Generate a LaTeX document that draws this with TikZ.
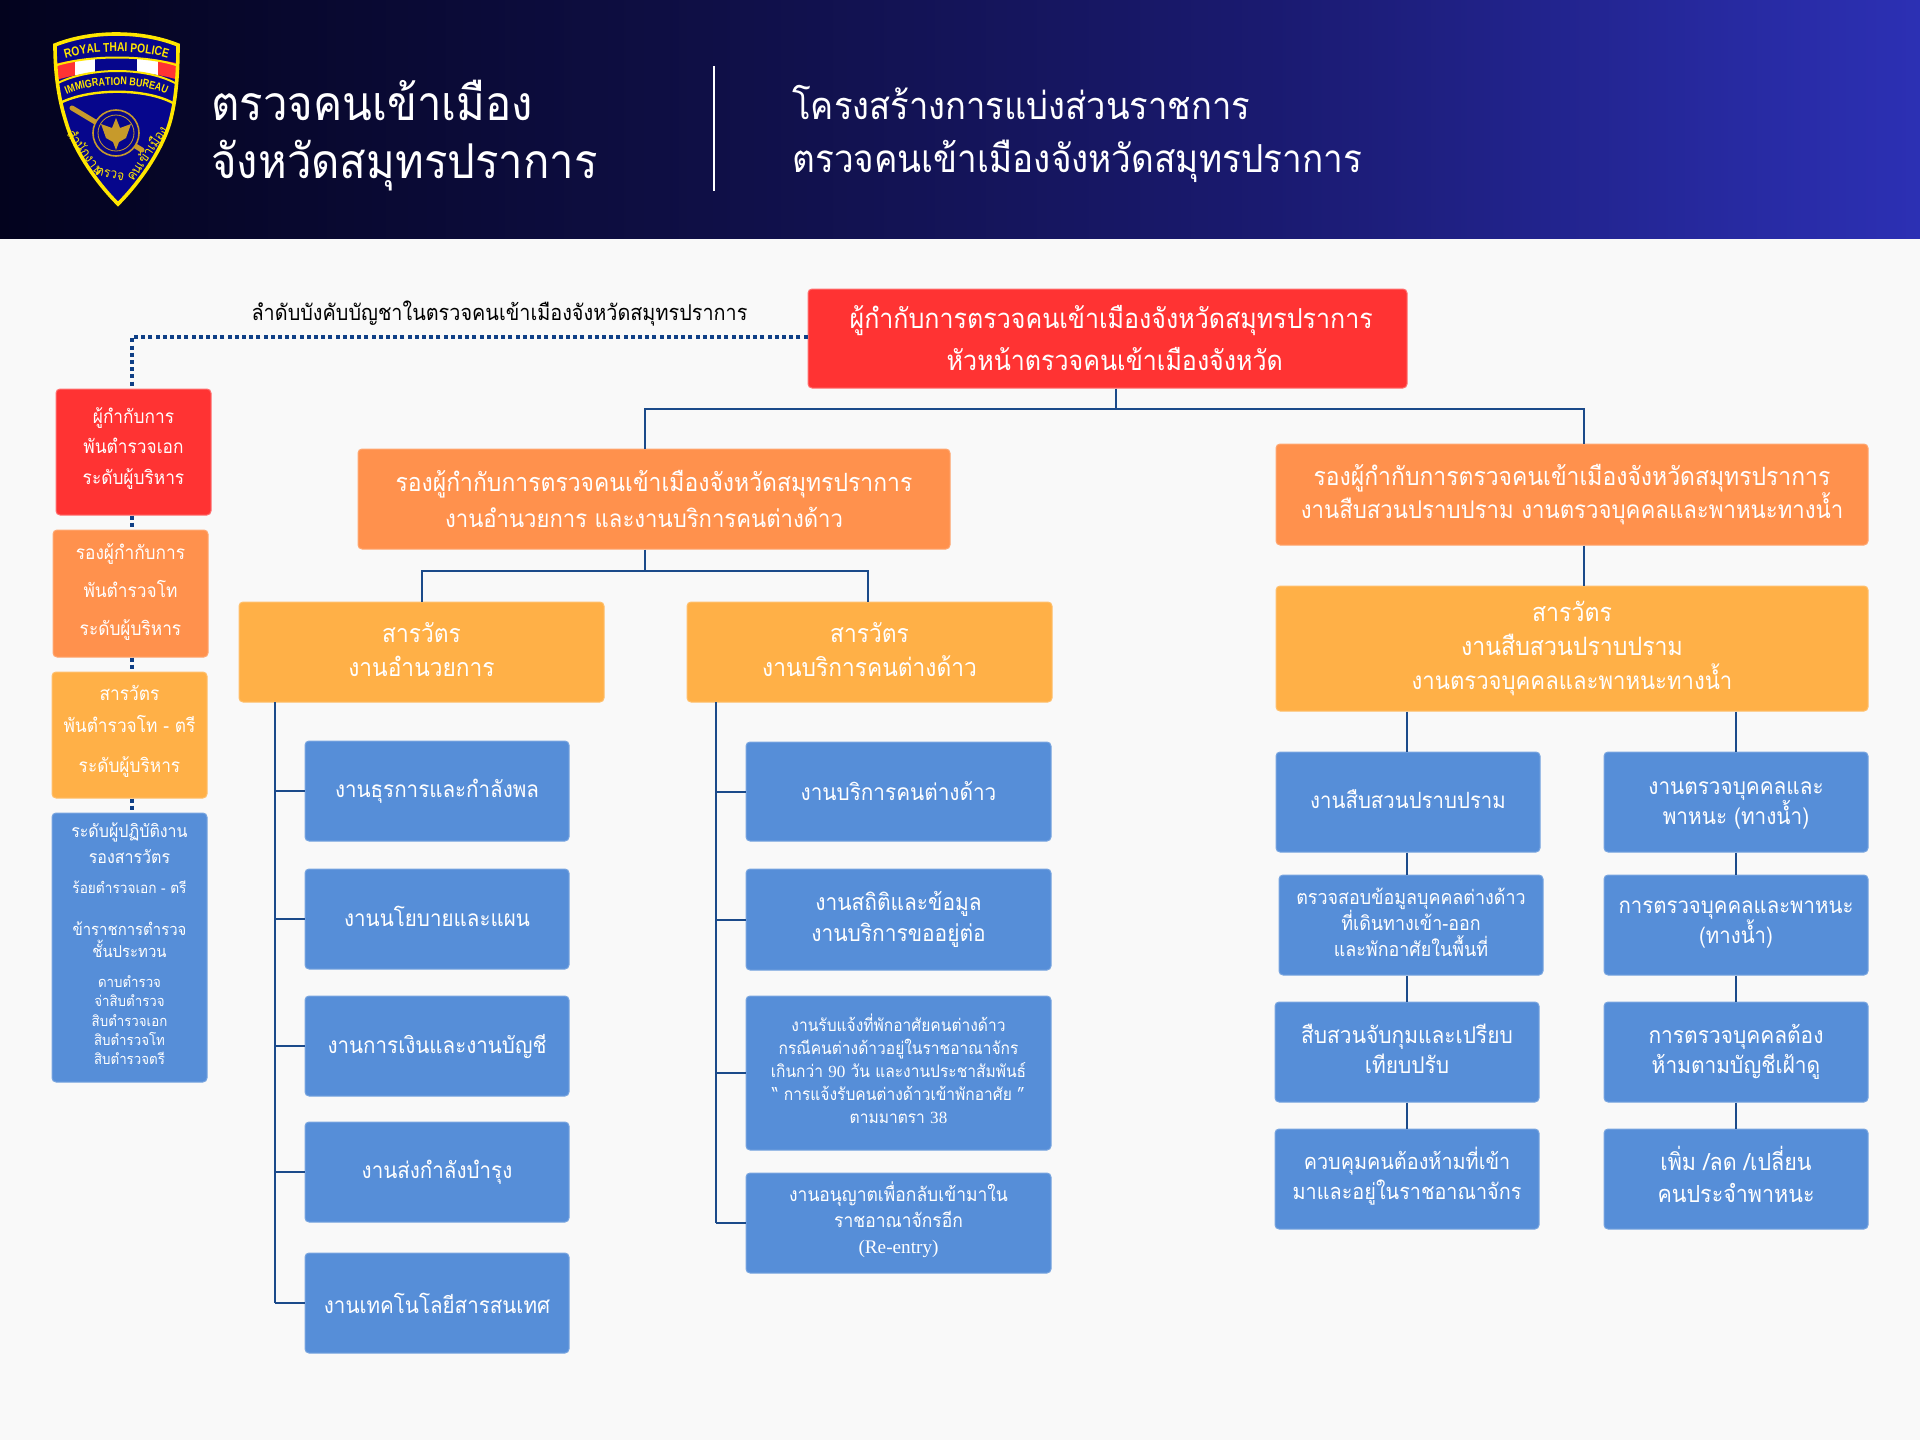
\documentclass[tikz,border=0pt]{standalone}
\usepackage{fontspec}
\setmainfont[Script=Thai,FakeStretch=0.91]{Loma}
\newfontfamily\latinserif{Liberation Serif}
\newfontfamily\badgefont[FakeStretch=0.8]{Liberation Sans}
\usetikzlibrary{decorations.text}
\definecolor{pagebg}{HTML}{F9F9F9}
\definecolor{chiefred}{HTML}{FF3333}
\definecolor{deputyorange}{HTML}{FF914D}
\definecolor{inspyellow}{HTML}{FFB047}
\definecolor{staffblue}{HTML}{568ED8}
\definecolor{linkblue}{HTML}{1B4A8A}
\definecolor{dotblue}{HTML}{0F3F86}
\definecolor{badgenavy}{HTML}{06068C}
\definecolor{badgegold}{HTML}{FFE600}
\definecolor{garudagold}{HTML}{C79A2B}
\definecolor{headA}{HTML}{03031E}
\definecolor{headB}{HTML}{0E0E42}
\definecolor{headC}{HTML}{1A1A70}
\definecolor{headD}{HTML}{2C30B4}
\pgfdeclarehorizontalshading{headershade}{100bp}{
  color(0bp)=(headA); color(25bp)=(headA);
  color(42bp)=(headB); color(58bp)=(headC);
  color(75bp)=(headD); color(100bp)=(headD)}
\newcommand{\fs}[2]{\fontsize{#1}{#2}\selectfont\lineskiplimit=-20pt }
\newcommand{\lift}[1]{\rule[-#1]{0pt}{#1}}
\tikzset{
  orgbox/.style={rectangle, rounded corners=2pt, text=white, align=center, inner sep=0pt, line width=0.5pt},
  boxsize/.style 2 args={minimum width=#1*0.5pt, minimum height=#2*0.5pt},
  fnt/.style 2 args={font=\fs{#1}{#2}},
  redbox/.style={orgbox, fill=chiefred, draw=chiefred!70!white},
  orangebox/.style={orgbox, fill=deputyorange, draw=deputyorange!80!white},
  yellowbox/.style={orgbox, fill=inspyellow, draw=inspyellow!80!white},
  bluebox/.style={orgbox, fill=staffblue, draw=staffblue!80!white},
  link/.style={draw=linkblue, line width=1pt},
  rankline/.style={draw=dotblue, line width=2pt, dash pattern=on 2pt off 1.6pt},
  headtext/.style={text=white, anchor=base west, inner sep=0pt, align=left},
}
\begin{document}
\begin{tikzpicture}[x=0.5pt, y=-0.5pt]
    \useasboundingbox (0,0) rectangle (1920,1440);
    \fill[pagebg] (0,0) rectangle (1920,1440);

    % Header band
    \shade[shading=headershade] (0,0) rectangle (1920,238);
    \node[headtext, fnt={24}{24}] (titleA) at (211,120) {ตรวจคนเข้าเมือง};
    \node[headtext, fnt={24}{24}] (titleB) at (211,178) {จังหวัดสมุทรปราการ};
    \coordinate (ruleTop) at (714,66);
    \coordinate (ruleBot) at (714,191);
    \draw[white, line width=0.8pt] (ruleTop) -- (ruleBot);
    \node[headtext, fnt={19}{19}] (subA) at (792,119) {โครงสร้างการแบ่งส่วนราชการ};
    \node[headtext, fnt={19.3}{19}] (subB) at (792,172) {ตรวจคนเข้าเมืองจังหวัดสมุทรปราการ};

    % Badge
    \def\badgeshape{(55,45) .. controls (75,37) and (97,34) .. (116,34) .. controls (137,34) and (158,37) .. (178,45)
      .. controls (178,75) and (176,100) .. (170,122) .. controls (162,150) and (140,182) .. (118,204)
      .. controls (96,182) and (74,150) .. (66,122) .. controls (59,100) and (55,75) .. (55,45) -- cycle}
    \fill[badgenavy] \badgeshape;
    \begin{scope}
      \clip \badgeshape;
      \clip (50,65) .. controls (90,55) and (145,55) .. (185,65) -- (185,82) .. controls (145,68) and (90,68) .. (50,82) -- cycle;
      \fill[chiefred] (50,50) rectangle (75,90);
      \fill[white] (75,50) rectangle (95,90);
      \fill[badgenavy] (95,50) rectangle (137,90);
      \fill[white] (137,50) rectangle (158,90);
      \fill[chiefred] (158,50) rectangle (185,90);
    \end{scope}
    \draw[badgegold, line width=1pt] (57,65) .. controls (90,55) and (145,55) .. (176,65);
    \draw[badgegold, line width=1pt] (58,83) .. controls (90,67) and (145,67) .. (175,83);
    \draw[badgegold, line width=1.2pt] (60,103) .. controls (90,88) and (145,88) .. (173,103);
    \draw[badgegold, line width=1.8pt] \badgeshape;
    \path[decorate, decoration={text along path, text align=center,
      text={|\badgefont\bfseries\fontsize{6.4}{7}\selectfont\color{badgegold}|ROYAL THAI POLICE}}]
      (60,60) .. controls (90,49) and (145,49) .. (173,60);
    \path[decorate, decoration={text along path, text align=center,
      text={|\badgefont\bfseries\fontsize{5.6}{6}\selectfont\color{badgegold}|IMMIGRATION BUREAU}}]
      (61,97) .. controls (90,81) and (145,81) .. (172,97);
    \draw[garudagold, line width=2.5pt, line cap=round] (72,108) -- (142,150);
    \fill[badgenavy] (116,133) circle (23);
    \draw[garudagold, line width=0.8pt] (116,133) circle (23);
    \draw[garudagold, line width=0.4pt] (116,133) circle (18);
    \fill[garudagold] (116,118) -- (120,128) -- (131,124) -- (126,138) -- (119,142) -- (116,150) -- (113,142) -- (106,138) -- (101,124) -- (112,128) -- cycle;
    \node[text=badgegold, rotate=-54, inner sep=0pt, fnt={6.8}{7}] (badgeL) at (86,152) {สำนักงาน};
    \node[text=badgegold, rotate=-14, inner sep=0pt, fnt={6.8}{7}] (badgeM) at (110,174) {ตรวจ};
    \node[text=badgegold, rotate=56, inner sep=0pt, fnt={6.8}{7}] (badgeR) at (146,153) {คนเข้าเมือง};

    % Chain of command, left
    \node[redbox, boxsize={599}{99}, fnt={13.75}{21}] (chief) at (1107.5,338.5)
      {\hspace*{3.7pt}ผู้กำกับการตรวจคนเข้าเมืองจังหวัดสมุทรปราการ\\\hspace*{7.3pt}หัวหน้าตรวจคนเข้าเมืองจังหวัด};
    \node[anchor=base, inner sep=0pt, fnt={10.9}{12}] (ranklabel) at (499.5,320) {ลำดับบังคับบัญชาในตรวจคนเข้าเมืองจังหวัดสมุทรปราการ};
    \node[redbox, boxsize={155}{126}, fnt={9.5}{15.2}] (legendA) at (133.5,452)
      {ผู้กำกับการ\\พันตำรวจเอก\\ระดับผู้บริหาร\lift{6pt}};
    \node[orangebox, boxsize={155}{127}, fnt={9.5}{19.2}] (legendB) at (130.5,593.5)
      {รองผู้กำกับการ\\พันตำรวจโท\\ระดับผู้บริหาร\lift{4pt}};
    \node[yellowbox, boxsize={155}{126}, fnt={9.5}{16}] (legendC) at (129.5,735)
      {สารวัตร\\พันตำรวจโท - ตรี\\[4pt]ระดับผู้บริหาร\lift{6pt}};
    \node[bluebox, boxsize={155}{269}, fnt={8.8}{9.7}] (legendD) at (129.5,947.5)
      {ระดับผู้ปฏิบัติงาน\\[3.3pt]รองสารวัตร\\[5.3pt]\fs{7.5}{9.7}ร้อยตำรวจเอก - ตรี\\[11.3pt]
       \fs{8.2}{9.7}ข้าราชการตำรวจ\\[1.3pt]\fs{8.2}{9.7}ชั้นประทวน\\[5.3pt]\fs{7.3}{9.7}ดาบตำรวจ\\\fs{7.3}{9.7}จ่าสิบตำรวจ\\\fs{7.3}{9.7}สิบตำรวจเอก\\\fs{7.3}{9.7}สิบตำรวจโท\\\fs{7.3}{9.7}สิบตำรวจตรี\lift{3.7pt}};
    \coordinate (rankturn) at (132,337);
    \draw[rankline] (chief.west |- rankturn) -- (rankturn) -- (rankturn |- legendA.north);
    \foreach \a/\b in {legendA/legendB, legendB/legendC, legendC/legendD}
        \draw[rankline] (rankturn |- \a.south) -- (rankturn |- \b.north);

    % Deputies
    \node[orangebox, boxsize={592}{100}, fnt={12.6}{17.8}] (deputyL) at (654,499)
      {รองผู้กำกับการตรวจคนเข้าเมืองจังหวัดสมุทรปราการ\\\fs{12.15}{17.8}งานอำนวยการ และงานบริการคนต่างด้าว\hspace*{10pt}};
    \node[orangebox, boxsize={592}{101}, fnt={12.6}{16.5}] (deputyR) at (1572,494.5)
      {รองผู้กำกับการตรวจคนเข้าเมืองจังหวัดสมุทรปราการ\\\fs{12.2}{16.5}งานสืบสวนปราบปราม งานตรวจบุคคลและพาหนะทางน้ำ};
    \coordinate (busTop) at (1116,409);
    \coordinate (busTopL) at (645,409);
    \coordinate (busTopR) at (1584,409);
    \draw[link] (busTop |- chief.south) -- (busTop);
    \draw[link] (busTopL |- deputyL.north) -- (busTopL) -- (busTopR) -- (busTopR |- deputyR.north);

    % Inspectors
    \node[yellowbox, boxsize={365}{100}, fnt={12.5}{17}] (inspA) at (421.5,652)
      {สารวัตร\\งานอำนวยการ\lift{2.5pt}};
    \node[yellowbox, boxsize={365}{100}, fnt={12.5}{17}] (inspB) at (869.5,652)
      {สารวัตร\\งานบริการคนต่างด้าว\lift{2.5pt}};
    \node[yellowbox, boxsize={592}{125}, fnt={12.7}{17}] (inspC) at (1572,648.5)
      {สารวัตร\\งานสืบสวนปราบปราม\\\fs{12.15}{17}งานตรวจบุคคลและพาหนะทางน้ำ};
    \coordinate (busMid) at (645,571);
    \coordinate (busMidL) at (422,571);
    \coordinate (busMidR) at (868,571);
    \draw[link] (busMid |- deputyL.south) -- (busMid);
    \draw[link] (busMidL |- inspA.north) -- (busMidL) -- (busMidR) -- (busMidR |- inspB.north);
    \draw[link] (busTopR |- deputyR.south) -- (busTopR |- inspC.north);

    % Units under inspector A
    \foreach \n/\y/\txt in {unitA/791/งานธุรการและกำลังพล, unitB/919/งานนโยบายและแผน\lift{2.5pt}, unitC/1046/งานการเงินและงานบัญชี,
                            unitD/1172/งานส่งกำลังบำรุง, unitE/1303/งานเทคโนโลยีสารสนเทศ}
        \node[bluebox, boxsize={264}{100}, fnt={11.3}{14}] (\n) at (437,\y) {\txt};
    \coordinate (spineA) at (275,702);
    \draw[link] (spineA) -- (spineA |- unitE.west);
    \foreach \n in {unitA, unitB, unitC, unitD, unitE}
        \draw[link] (spineA |- \n.west) -- (\n.west);

    % Units under inspector B
    \node[bluebox, boxsize={305}{99}, fnt={11.4}{14}] (unitF) at (898.5,791.5) {งานบริการคนต่างด้าว};
    \node[bluebox, boxsize={305}{101}, fnt={11.5}{15.3}] (unitG) at (898.5,919.5) {งานสถิติและข้อมูล\\งานบริการขออยู่ต่อ};
    \node[bluebox, boxsize={305}{154}, fnt={8.55}{11.6}] (unitH) at (898.5,1073)
      {งานรับแจ้งที่พักอาศัยคนต่างด้าว\\กรณีคนต่างด้าวอยู่ในราชอาณาจักร\\
       เกินกว่า {\latinserif 90} วัน และงานประชาสัมพันธ์\\“ การแจ้งรับคนต่างด้าวเข้าพักอาศัย ”\\ตามมาตรา {\latinserif 38}\lift{4.3pt}};
    \node[bluebox, boxsize={305}{100}, fnt={9.6}{13}] (unitI) at (898.5,1223)
      {งานอนุญาตเพื่อกลับเข้ามาใน\\ราชอาณาจักรอีก\\{\latinserif (Re-entry)}\lift{5pt}};
    \coordinate (spineB) at (716,702);
    \draw[link] (spineB) -- (spineB |- unitI.west);
    \foreach \n in {unitF, unitG, unitH, unitI}
        \draw[link] (spineB |- \n.west) -- (\n.west);

    % Units under inspector C
    \node[bluebox, boxsize={264}{100}, fnt={11.2}{14}] (unitJ) at (1408,802) {งานสืบสวนปราบปราม\lift{2.5pt}};
    \node[bluebox, boxsize={264}{100}, fnt={9.85}{13}] (unitK) at (1411,925)
      {ตรวจสอบข้อมูลบุคคลต่างด้าว\\ที่เดินทางเข้า-ออก\\และพักอาศัยในพื้นที่\lift{3pt}};
    \node[bluebox, boxsize={264}{100}, fnt={11.5}{15}] (unitL) at (1407,1052) {สืบสวนจับกุมและเปรียบ\\เทียบปรับ\lift{3pt}};
    \node[bluebox, boxsize={264}{100}, fnt={10.9}{15}] (unitM) at (1407,1179) {ควบคุมคนต้องห้ามที่เข้า\\มาและอยู่ในราชอาณาจักร\lift{6pt}};
    \node[bluebox, boxsize={264}{100}, fnt={11.4}{15}] (unitN) at (1736,802) {\rule{0pt}{10pt}งานตรวจบุคคลและ\\พาหนะ (ทางน้ำ)};
    \node[bluebox, boxsize={264}{100}, fnt={11.2}{15}] (unitO) at (1736,925) {การตรวจบุคคลและพาหนะ\\(ทางน้ำ)};
    \node[bluebox, boxsize={264}{100}, fnt={11.5}{15}] (unitP) at (1736,1052) {การตรวจบุคคลต้อง\\ห้ามตามบัญชีเฝ้าดู};
    \node[bluebox, boxsize={264}{100}, fnt={11.8}{16}] (unitQ) at (1736,1179) {เพิ่ม /ลด /เปลี่ยน\\คนประจำพาหนะ\lift{5pt}};
    \coordinate (spineC) at (1407,711);
    \coordinate (spineD) at (1736,711);
    \foreach \a/\b in {inspC/unitJ, unitJ/unitK, unitK/unitL, unitL/unitM}
        \draw[link] (spineC |- \a.south) -- (spineC |- \b.north);
    \foreach \a/\b in {inspC/unitN, unitN/unitO, unitO/unitP, unitP/unitQ}
        \draw[link] (spineD |- \a.south) -- (spineD |- \b.north);
\end{tikzpicture}
\end{document}
